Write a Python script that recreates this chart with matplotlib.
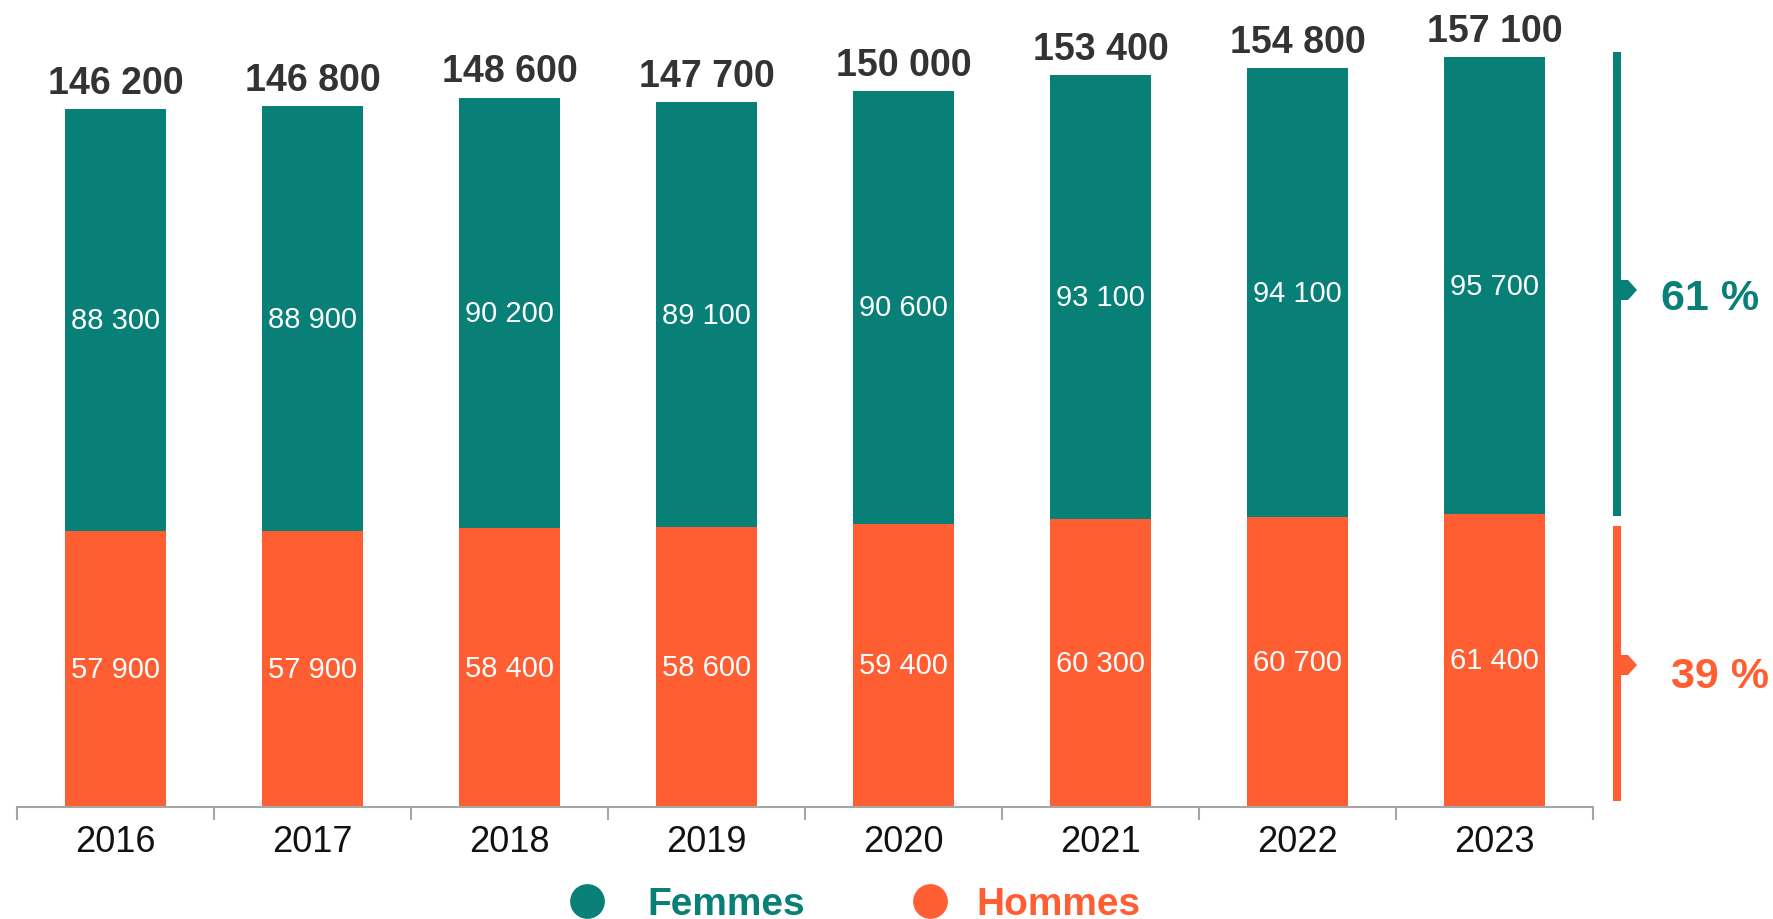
import matplotlib
matplotlib.use("Agg")
import matplotlib.pyplot as plt
from matplotlib.lines import Line2D
from matplotlib.patches import Polygon
import numpy as np

years = ["2016", "2017", "2018", "2019", "2020", "2021", "2022", "2023"]
hommes = [57900, 57900, 58400, 58600, 59400, 60300, 60700, 61400]
femmes = [88300, 88900, 90200, 89100, 90600, 93100, 94100, 95700]
totals = [146200, 146800, 148600, 147700, 150000, 153400, 154800, 157100]
share_labels = ["61 %", "39 %"]
legend_labels = ["Femmes", "Hommes"]

TEAL = "#088078"
ORANGE = "#FF5E33"
DARK = "#333333"
SANS = ["Liberation Sans", "DejaVu Sans"]

W, H = 1774, 920
fig = plt.figure(figsize=(W / 100, H / 100), dpi=100)

def fx(px):
    return px / W

def fy(py):
    return 1 - py / H

ax = fig.add_axes([fx(17), fy(808), fx(1593) - fx(17), fy(0) - fy(808)])

def fmt(v):
    return f"{v:,}".replace(",", " ")

x = np.arange(len(years))
bw = 0.51
ax.bar(x, hommes, width=bw, color=ORANGE, zorder=2)
ax.bar(x, femmes, width=bw, bottom=hommes, color=TEAL, zorder=2)

for i in range(len(years)):
    ax.text(x[i], hommes[i] / 2, fmt(hommes[i]), ha="center", va="center",
            color="white", fontsize=21, family=SANS)
    ax.text(x[i], hommes[i] + femmes[i] / 2, fmt(femmes[i]), ha="center", va="center",
            color="white", fontsize=21, family=SANS)
    ax.annotate(fmt(totals[i]), (x[i], totals[i]), xytext=(0, 19), textcoords="offset points",
                ha="center", va="center", color=DARK, fontsize=27, fontweight="bold", family=SANS)

ax.set_xlim(-0.5, len(years) - 0.5)
ax.set_ylim(0, 808 / (276.3 / 57900))
ax.set_yticks([])
for s in ["top", "right", "left"]:
    ax.spines[s].set_visible(False)
ax.spines["bottom"].set_color("#A6A6A6")
ax.spines["bottom"].set_linewidth(1.5)
ax.set_xticks(x)
ax.set_xticklabels(years, fontsize=26, family=SANS, color="#111111")
ax.tick_params(axis="x", which="major", length=0, pad=12)
ax.set_xticks(np.arange(-0.5, len(years), 1.0), minor=True)
ax.tick_params(axis="x", which="minor", length=9, width=1.5, color="#A6A6A6")

# right side share indicators
xl = fx(1617)
fig.add_artist(Line2D([xl, xl], [fy(53), fy(517)], color=TEAL, lw=5.8, solid_capstyle="butt"))
fig.add_artist(Line2D([xl, xl], [fy(527), fy(802)], color=ORANGE, lw=5.8, solid_capstyle="butt"))
for cy, col in [(291, TEAL), (666, ORANGE)]:
    verts = [(fx(1617), fy(cy - 10)), (fx(1628), fy(cy - 10)), (fx(1637), fy(cy)),
             (fx(1628), fy(cy + 10)), (fx(1617), fy(cy + 10))]
    fig.add_artist(Polygon(verts, closed=True, facecolor=col, edgecolor="none",
                           transform=fig.transFigure))
fig.text(fx(1661), fy(299), share_labels[0], ha="left", va="center", color=TEAL,
         fontsize=31, fontweight="bold", family=SANS)
fig.text(fx(1671), fy(677), share_labels[1], ha="left", va="center", color=ORANGE,
         fontsize=31, fontweight="bold", family=SANS)

# legend
for cx, tx, lab, col in [(587, 647, legend_labels[0], TEAL), (930, 976, legend_labels[1], ORANGE)]:
    fig.add_artist(Line2D([fx(cx)], [fy(902)], marker="o", markersize=24, color=col, lw=0))
    fig.text(fx(tx), fy(905), lab, ha="left", va="center", color=col,
             fontsize=28, fontweight="bold", family=SANS)

fig.savefig("out.png", dpi=100)
